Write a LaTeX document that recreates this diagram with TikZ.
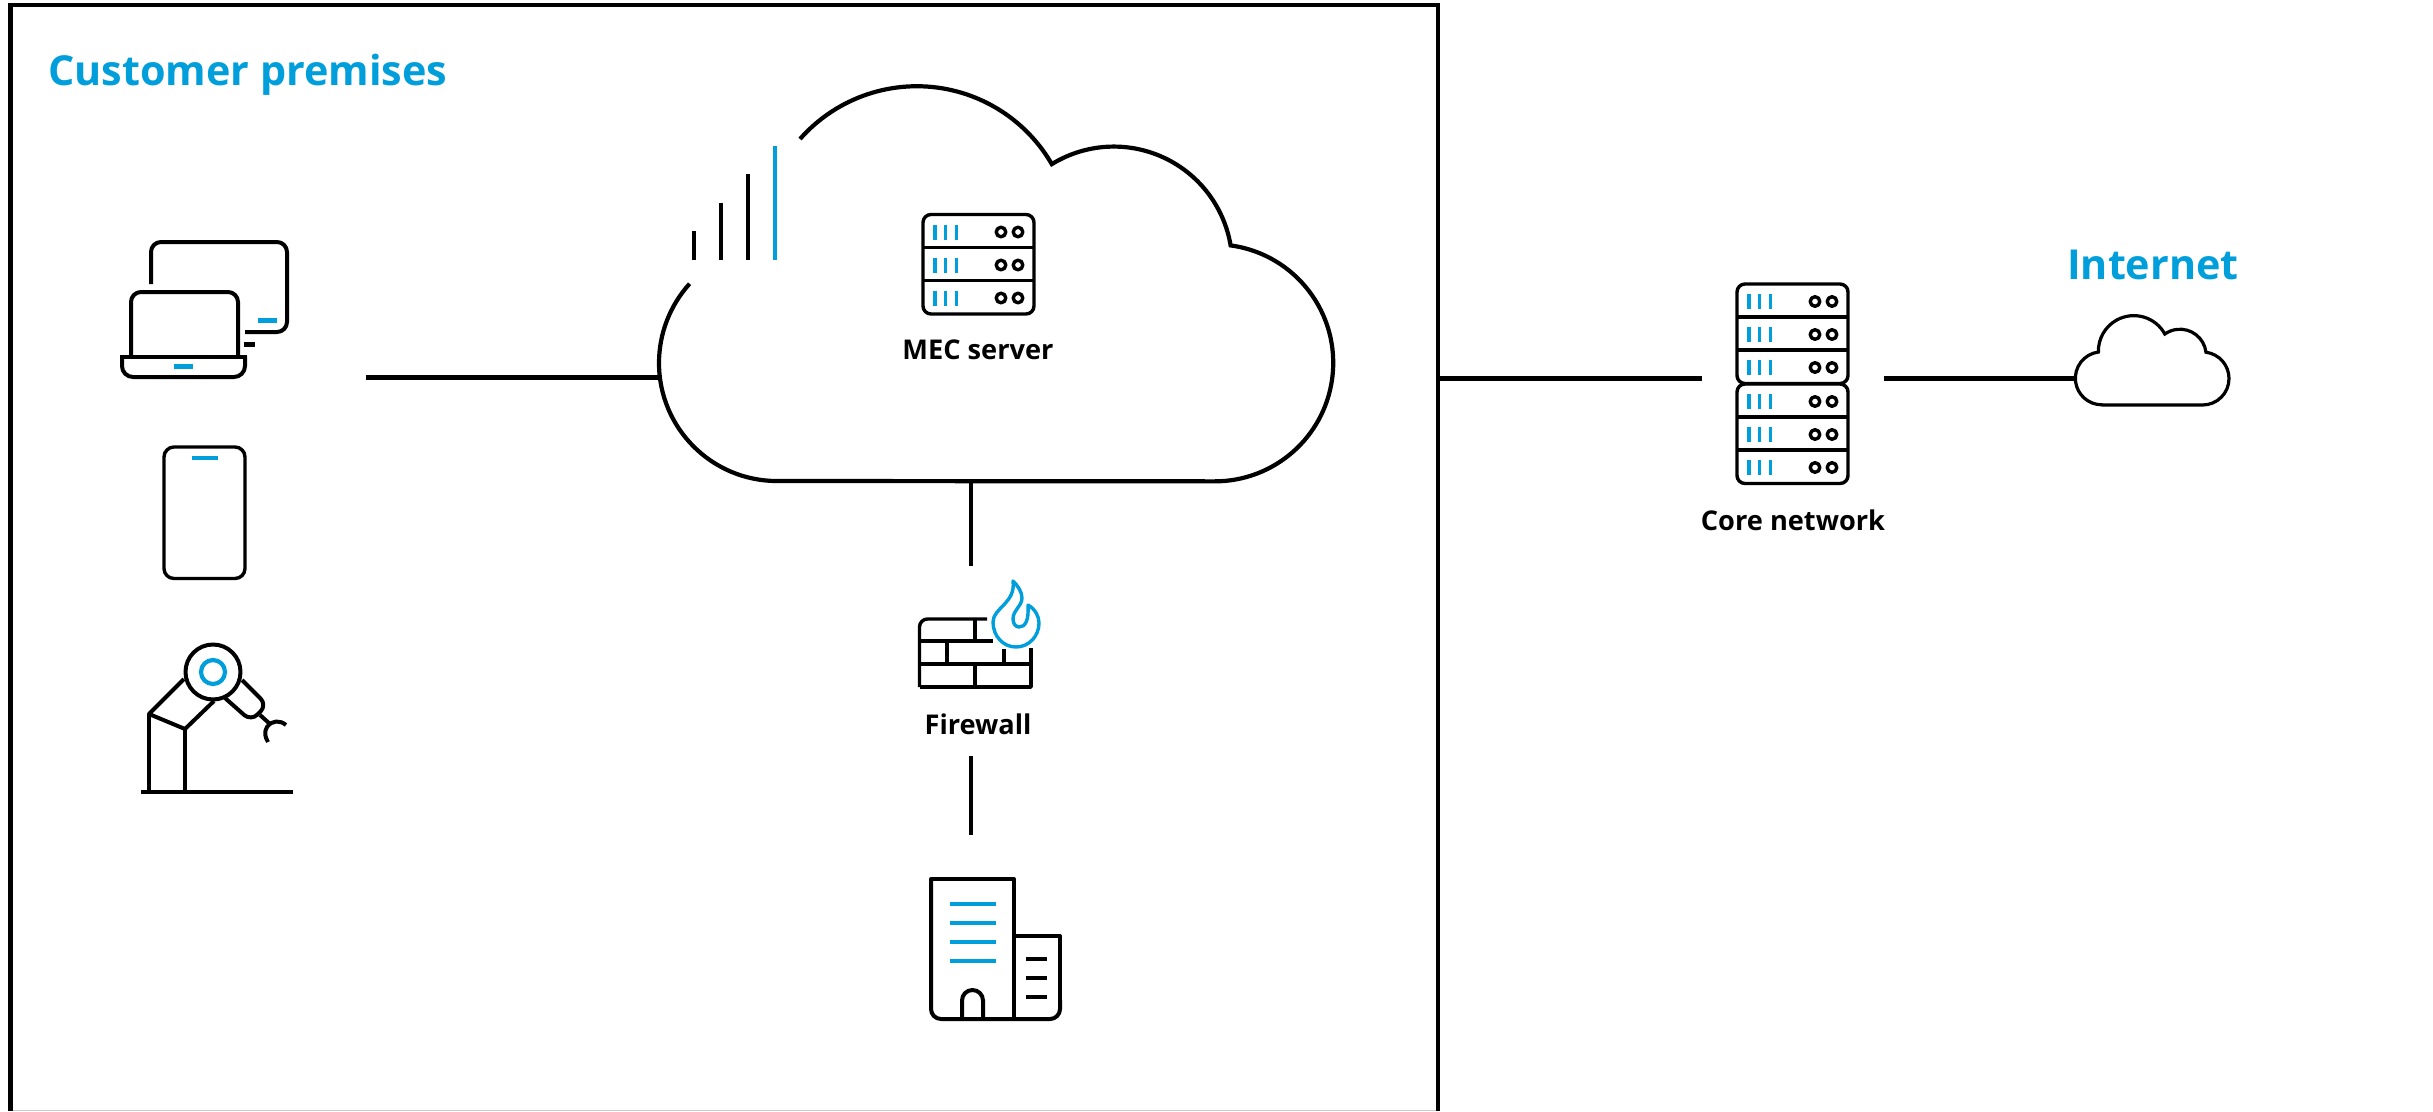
\documentclass[tikz,border=0pt]{standalone}
\usepackage{fontspec}
\setmainfont{Open Sans}
\definecolor{attblue}{HTML}{009FDB}
\tikzset{
  frameln/.style={line width=4.3pt,black},
  conn/.style={line width=4.6pt,black},
  cloudln/.style={line width=4.2pt,black,line join=miter},
  icon/.style={line width=3.4pt,black,line join=round},
  iconk/.style={line width=4pt,black,line join=round},
  iconb/.style={line width=3.4pt,attblue},
  iconbb/.style={line width=4.2pt,attblue},
  title/.style={font=\fontsize{41.3}{45}\selectfont\bfseries,text=attblue,inner sep=0pt,anchor=base west},
  lab/.style={font=\fontsize{27.2}{32}\selectfont\bfseries,text=black,inner sep=0pt,anchor=base},
}
\newcommand{\srvunit}[2]{%
  \foreach \k in {0,1,2}{
    \draw[iconb] (#1+12+\k*10.6,#2+10) -- ++(0,15);
  }
  \draw[icon] (#1+78,#2+17.5) circle (4.8);
  \draw[icon] (#1+95,#2+17.5) circle (4.8);
}
\newcommand{\srvstack}[2]{%
  \draw[icon] (#1,#2+33) -- (#1+111,#2+33) (#1,#2+66) -- (#1+111,#2+66);
  \draw[icon,rounded corners=8pt] (#1,#2) rectangle (#1+111,#2+99.5);
  \srvunit{#1}{#2}\srvunit{#1}{#2+33}\srvunit{#1}{#2+66}
}
\begin{document}
\begin{tikzpicture}[x=1pt,y=-1pt]
\useasboundingbox (0,0) rectangle (2433,1111);
\fill[white] (0,0) rectangle (2433,1111);
% frame
\draw[black!20,line width=1pt] (10,1110.5) -- (1438,1110.5);
\draw[frameln] (10.5,1111) -- (10.5,5) -- (1438.3,5) -- (1438.3,1111);
\node[title] (tcust) at (48,85) {Customer premises};
\node[title] (tinet) at (2067,279) {Internet};

% anchors of the connectors
\coordinate (devR) at (366,377.7);
\coordinate (cloudL) at (659,377.7);
\coordinate (cloudB) at (971,481);
\coordinate (fwT) at (971,566);
\coordinate (fwB) at (971,756);
\coordinate (bldT) at (971,835);
\coordinate (frameR) at (1438,378.4);
\coordinate (coreL) at (1702,378.4);
\coordinate (coreR) at (1884,378.4);
\coordinate (inetL) at (2076,378.4);

% big cloud
\draw[cloudln] (800,139)
  arc[start angle=221.4,end angle=330,radius=155.8]
  arc[start angle=238.4,end angle=350.5,radius=118.4]
  arc[start angle=277.7,end angle=450,radius=118.5]
  -- (777,481)
  arc[start angle=90,end angle=222.2,radius=118];

% connectors
\draw[conn] (devR) -- (cloudL);
\draw[conn] (cloudB) -- (fwT);
\draw[conn] (fwB) -- (bldT);
\draw[conn] (frameR) -- (coreL);
\draw[conn] (coreR) -- (inetL);

% signal bars
\draw[iconk] (694,260) -- (694,231);
\draw[iconk] (721,260) -- (721,203);
\draw[iconk] (748,260) -- (748,174);
\draw[iconbb] (775,260) -- (775,146);

% MEC server
\srvstack{923}{214.5}
\node[lab] (mec) at (978,359) {MEC server};

% monitor
\draw[iconk,rounded corners=10pt] (151,284) -- (151,242) -- (287,242) -- (287,332) -- (245,332);
\draw[iconbb,line width=5pt] (258,320.5) -- (277,320.5);
\draw[line width=5pt] (244,344.5) -- (255,344.5);
% laptop
\draw[iconk,rounded corners=10pt] (131,357) -- (131,292) -- (238,292) -- (238,357);
\draw[iconk,rounded corners=11pt] (122,356) -- (122,377) -- (245,377) -- (245,356);
\draw[iconk] (120,356.5) -- (247,356.5);
\draw[iconbb,line width=5pt] (174,366.5) -- (193,366.5);
% phone
\draw[icon,rounded corners=10pt] (164,447) rectangle (245,578.5);
\draw[iconbb] (192,458) -- (218,458);
% robot
\coordinate (rc) at (213,672);
\draw[iconk] (rc) circle (27.5);
\draw[iconbb] (rc) circle (12);
\draw[iconk] (184,679) -- (149,714) -- (185,729) -- (214,701);
\draw[iconk] (149,714) -- (149,792);
\draw[iconk] (185,729) -- (185,792);
\draw[iconk] (141,792) -- (293,792);
\draw[iconk,rounded corners=9pt] (242,680) -- (267,705) -- (251,721) -- (225,698);
\draw[iconk] (260,715) -- (270,724);
\draw[iconk] (286,725) .. controls (280,720) and (272,720) .. (267,727) .. controls (264,732) and (265,737) .. (268,742);

% firewall
\draw[icon,rounded corners=8pt] (987,619) -- (919.5,619) -- (919.5,687);
\draw[icon] (919.5,687) -- (1031,687) -- (1031,648);
\draw[icon] (919.5,641) -- (993,641) (919.5,664) -- (1031,664);
\draw[icon] (975,619) -- (975,641) (947,641) -- (947,664) (1004,649) -- (1004,664) (975,664) -- (975,687);
\draw[iconb,line join=round,line cap=round] (1013,581)
  .. controls (1018,586) and (1022,592) .. (1022,598)
  .. controls (1022,606) and (1013,610) .. (1013,619)
  .. controls (1013,624) and (1016,627) .. (1019,627)
  .. controls (1025,627) and (1029,621) .. (1028,605)
  .. controls (1035,609) and (1039,616) .. (1039,623)
  .. controls (1039,636) and (1029,647) .. (1016,647)
  .. controls (1003,647) and (993,636) .. (993,622)
  .. controls (993,608) and (1016,603) .. (1013,581) -- cycle;
\node[lab] (fw) at (978,734) {Firewall};

% building
\draw[iconk,rounded corners=10pt] (1014,1019) -- (931,1019) -- (931,879);
\draw[iconk] (931,1005) -- (931,879) -- (1014,879) -- (1014,1019);
\draw[iconk] (1014,936) -- (1060,936) -- (1060,1005);
\draw[iconk,rounded corners=10pt] (1060,1000) -- (1060,1019) -- (1014,1019);
\draw[iconk] (962,1019) -- (962,1000.5) arc[start angle=180,end angle=360,radius=10.5] -- (983,1019);
\foreach \yy in {904,923,942,961}{ \draw[iconbb] (950,\yy) -- (996,\yy); }
\foreach \yy in {959,978,997}{ \draw[iconk] (1026,\yy) -- (1047,\yy); }

% core network
\srvstack{1737}{284}
\srvstack{1737}{384}
\node[lab] (core) at (1793,530) {Core network};

% internet cloud
\draw[icon,line width=3.2pt,line join=miter] (2102.5,405) -- (2202.5,405)
  arc[start angle=90,end angle=-82.5,radius=26.5]
  arc[start angle=353,end angle=234.7,radius=26.2]
  arc[start angle=331.3,end angle=178.4,radius=35.4]
  arc[start angle=262.5,end angle=90,radius=26.5] -- cycle;
\end{tikzpicture}
\end{document}
